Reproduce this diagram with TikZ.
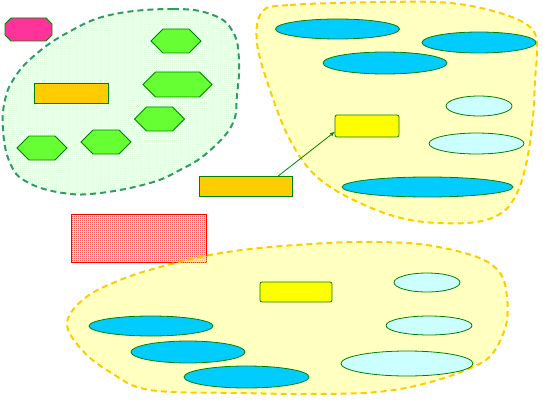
\documentclass[tikz,border=0pt]{standalone}
\usetikzlibrary{shapes.geometric,shapes.symbols,arrows.meta,patterns}

\definecolor{leaf}{HTML}{66FF33}
\definecolor{sky}{HTML}{00CCFF}
\definecolor{ice}{HTML}{CCFFFF}
\definecolor{gold}{HTML}{FFCC00}
\definecolor{lemon}{HTML}{FFFF00}
\definecolor{rose}{HTML}{FF3399}
\definecolor{edge}{HTML}{008000}
\definecolor{sea}{HTML}{339966}
\definecolor{paleleaf}{RGB}{204,255,204}
\definecolor{palegold}{RGB}{255,255,153}

% fine checker fill, 1pt cells
\pgfdeclarepatternformonly{checker}{\pgfpointorigin}{\pgfqpoint{2pt}{2pt}}{\pgfqpoint{2pt}{2pt}}{
  \pgfpathrectangle{\pgfpointorigin}{\pgfqpoint{1pt}{1pt}}
  \pgfpathrectangle{\pgfqpoint{1pt}{1pt}}{\pgfqpoint{1pt}{1pt}}
  \pgfusepath{fill}}

\tikzset{
  base/.style={draw=edge, line width=0.8pt, inner sep=0pt, outer sep=0pt},
  hexa/.style={base, signal, signal to=east and west, fill=leaf},
  oval/.style={base, ellipse, fill=sky},
  iceoval/.style={base, ellipse, fill=ice},
  goldbox/.style={base, rectangle, fill=gold},
  lemonbox/.style={base, rectangle, rounded corners=2pt, fill=lemon},
  blob/.style={line width=2pt, dash pattern=on 6pt off 4pt}
}

\begin{document}
\begin{tikzpicture}[x=1pt, y=-1pt]
    \useasboundingbox (0,0) rectangle (543,401);

    % Left group (green outline)
    \draw[blob, sea, pattern=checker, pattern color=paleleaf] plot[smooth cycle, tension=0.7] coordinates {
        (110,15) (173,9) (213,15) (233,32) (239,60) (237,95) (232,125)
        (207,153) (180,170) (150,183) (100,193) (63,193) (27,182)
        (10,163) (3,130) (5,100) (15,77) (35,55) (67,33)};

    % Right group (yellow outline)
    \draw[blob, gold, pattern=checker, pattern color=palegold] plot[smooth cycle, tension=0.6] coordinates {
        (262,12) (290,5) (383,2) (450,3) (500,13) (530,27) (537,45)
        (535,80) (533,117) (527,160) (517,193) (500,214) (467,223)
        (410,220) (360,203) (317,177) (290,140) (270,90) (257,43)};

    % Red hatched box
    \node[draw=red, line width=0.8pt, pattern=checker, pattern color=red,
          minimum width=135, minimum height=48, inner sep=0pt] (hatch) at (138.5,238) {};

    % Bottom group (yellow outline)
    \draw[blob, gold, pattern=checker, pattern color=palegold] plot[smooth cycle, tension=0.6] coordinates {
        (67,323) (85,298) (120,280) (160,267) (210,255) (260,248) (327,243)
        (377,242) (427,245) (477,257) (500,273) (507,297) (506,325)
        (493,353) (473,367) (427,383) (377,392) (310,394) (243,393)
        (150,390) (110,372) (82,350)};

    % Pink octagon
    \draw[draw=edge, line width=0.8pt, fill=rose]
        (11,18) -- (46,18) -- (52,24) -- (52,35) -- (46,41) -- (11,41)
        -- (5,35) -- (5,24) -- cycle;

    % Left group shapes
    \node[hexa, minimum width=50, minimum height=24] (hexA) at (176,41) {};
    \node[hexa, minimum width=69, minimum height=25] (hexB) at (177.5,84.5) {};
    \node[hexa, minimum width=50, minimum height=24] (hexC) at (159.5,119) {};
    \node[hexa, minimum width=50, minimum height=24] (hexD) at (106,142) {};
    \node[hexa, minimum width=50, minimum height=24] (hexE) at (42,148) {};
    \node[goldbox, minimum width=74, minimum height=20] (goldA) at (71,93) {};
    \node[goldbox, minimum width=93, minimum height=20] (goldB) at (245.5,186) {};

    % Right group shapes
    \node[oval, minimum width=124, minimum height=20] (ovalA) at (337.5,29) {};
    \node[oval, minimum width=114, minimum height=21] (ovalB) at (479,42.5) {};
    \node[oval, minimum width=124, minimum height=22] (ovalC) at (385,63) {};
    \node[oval, minimum width=171, minimum height=20] (ovalD) at (427.5,187) {};
    \node[iceoval, minimum width=66, minimum height=20] (iceA) at (479,106) {};
    \node[iceoval, minimum width=95, minimum height=21] (iceB) at (476.5,143.5) {};
    \node[lemonbox, minimum width=64, minimum height=22] (lemonA) at (367,126) {};

    % Bottom group shapes
    \node[lemonbox, minimum width=72, minimum height=20] (lemonB) at (296,292) {};
    \node[iceoval, minimum width=66, minimum height=19] (iceC) at (427,282.5) {};
    \node[iceoval, minimum width=86, minimum height=19] (iceD) at (429,325.5) {};
    \node[iceoval, minimum width=132, minimum height=25] (iceE) at (407,363.5) {};
    \node[oval, minimum width=124, minimum height=20] (ovalE) at (151,326) {};
    \node[oval, minimum width=114, minimum height=22] (ovalF) at (188,352) {};
    \node[oval, minimum width=125, minimum height=22] (ovalG) at (246.5,377) {};

    % Link
    \draw[edge, line width=0.8pt, -{Latex[length=5pt, width=4pt]}] (goldB.17) -- (lemonA.190);
\end{tikzpicture}
\end{document}
